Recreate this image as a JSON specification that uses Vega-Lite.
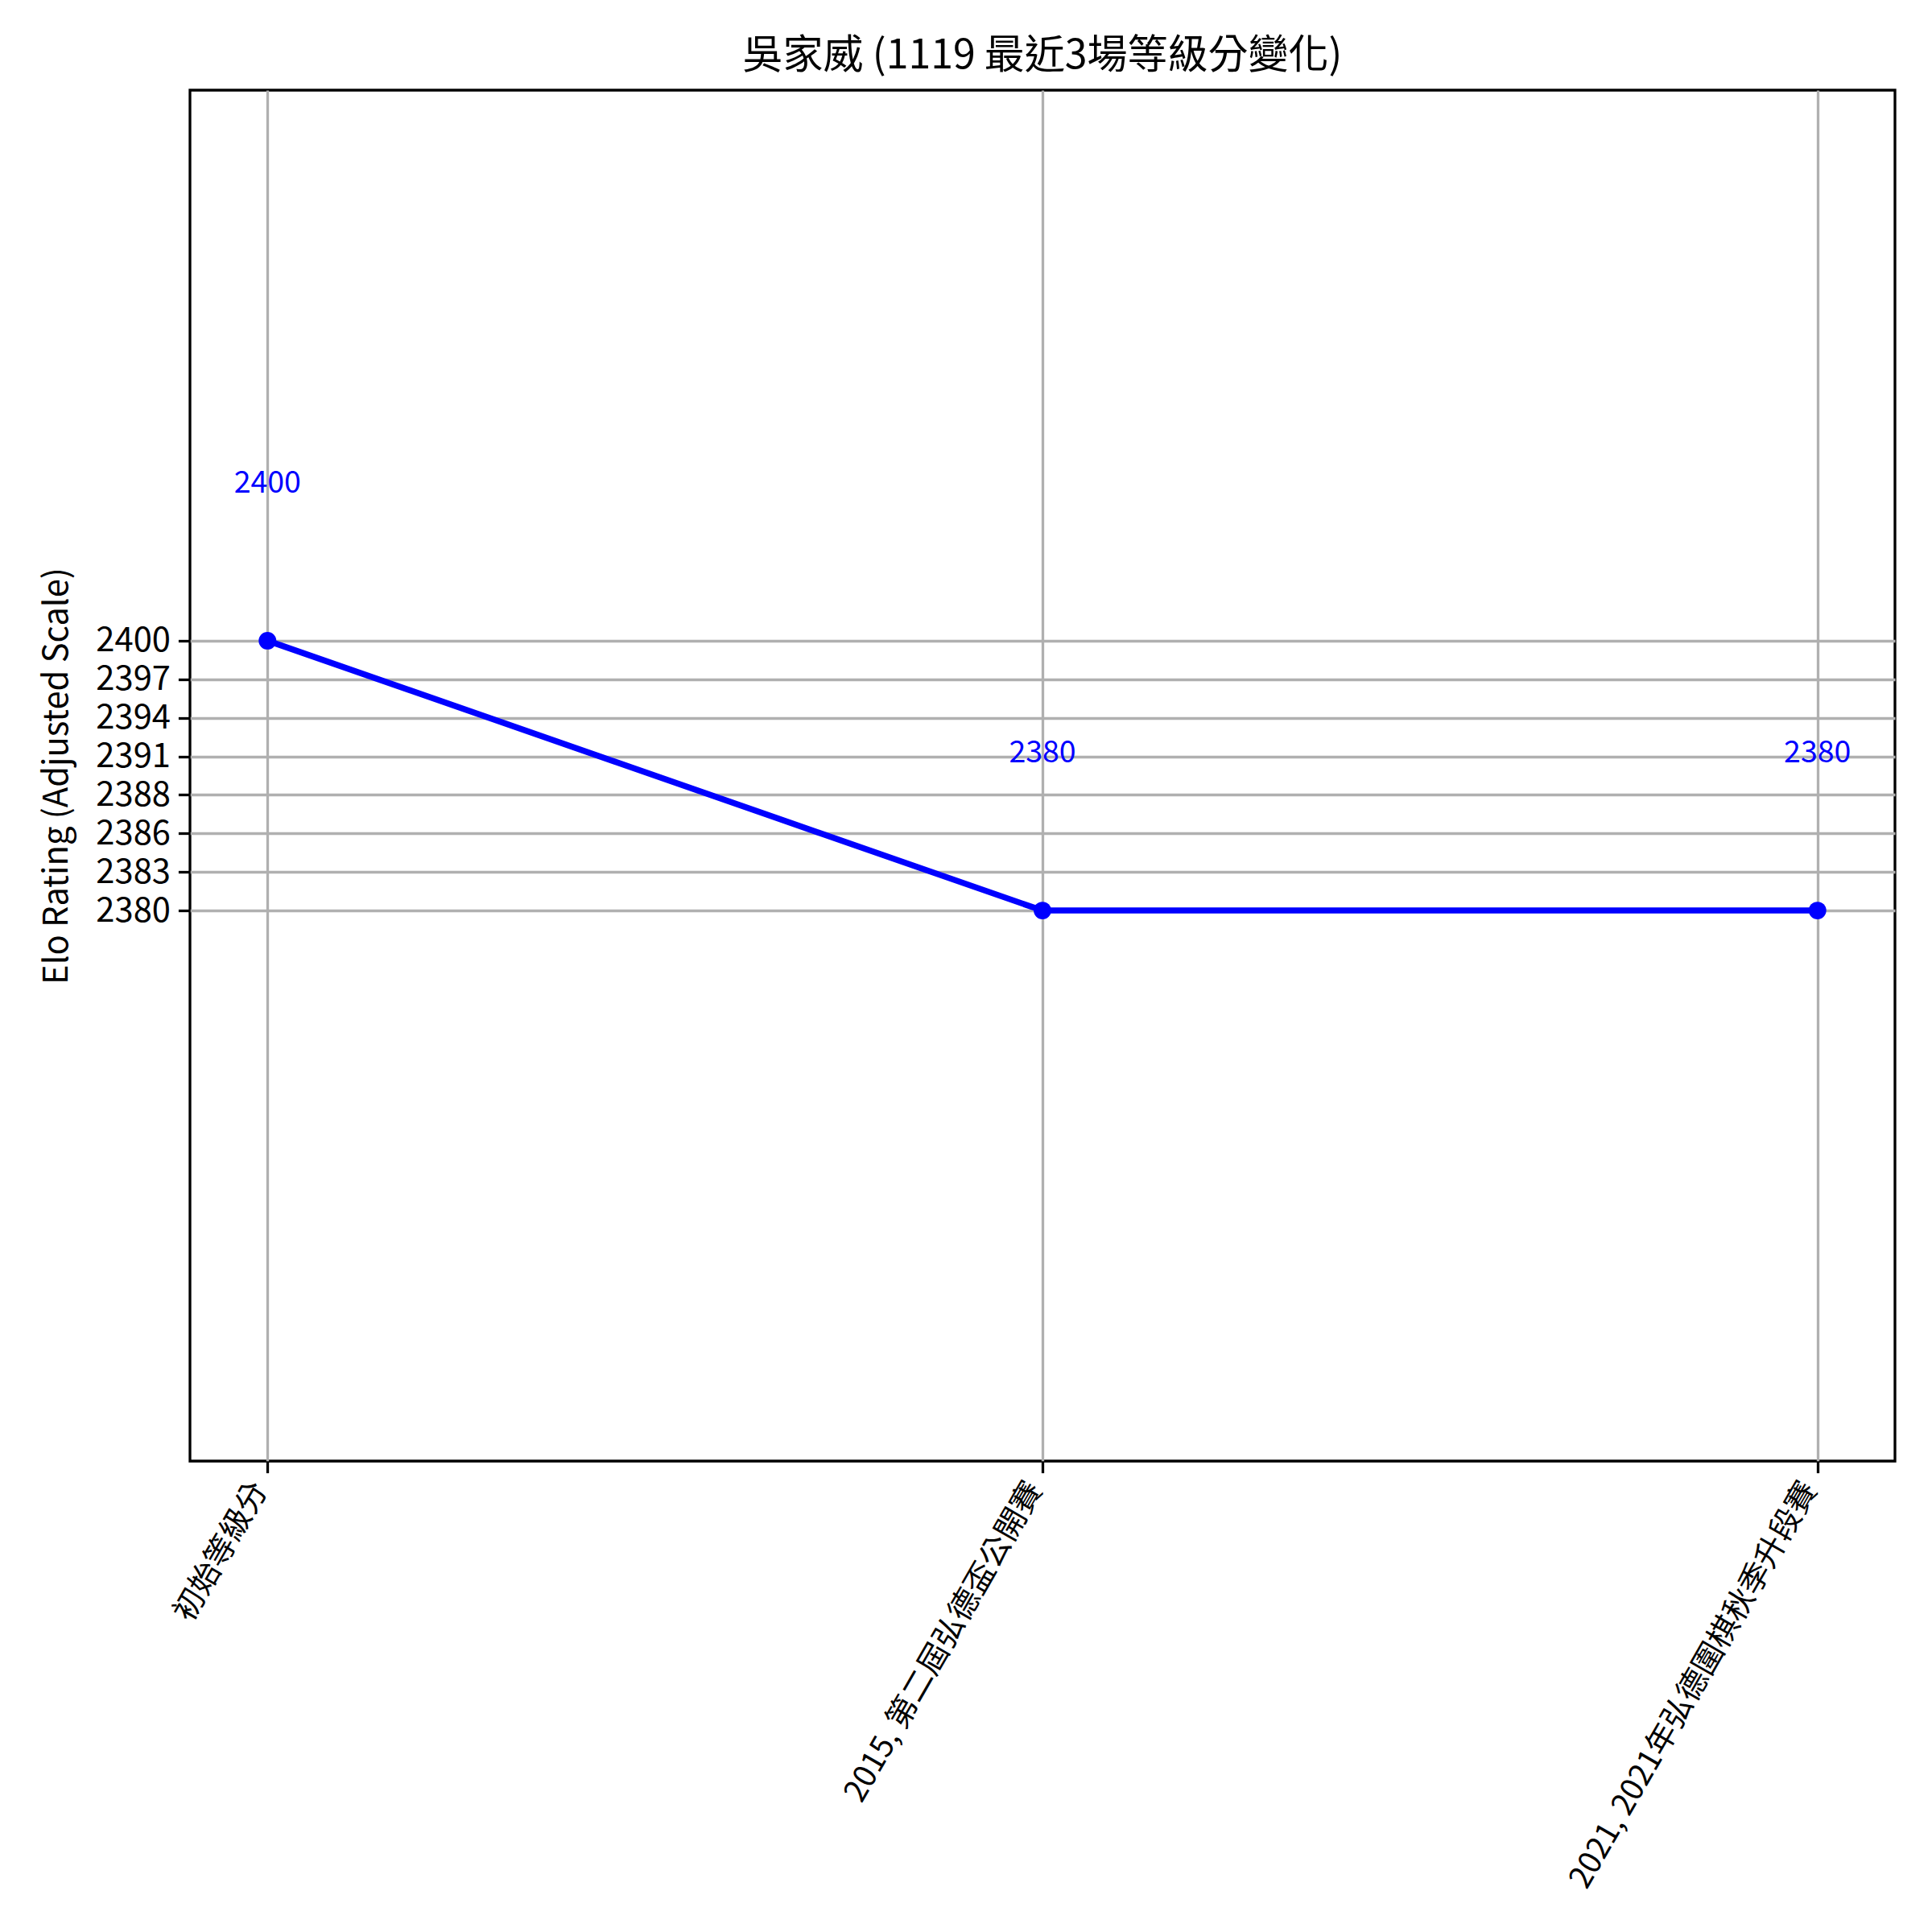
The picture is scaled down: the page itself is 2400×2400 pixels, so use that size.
{
  "$schema": "https://vega.github.io/schema/vega-lite/v6.json",
  "autosize": {"type": "none"},
  "padding": {"left": 236, "top": 112, "right": 46, "bottom": 585},
  "width": 2118,
  "height": 1703,
  "background": "white",
  "title": {
    "text": "吳家威 (1119 最近3場等級分變化)",
    "font": "Noto Sans CJK TC",
    "fontSize": 50,
    "fontWeight": "normal",
    "color": "black",
    "anchor": "middle",
    "offset": 17
  },
  "config": {
    "view": {"stroke": "black", "strokeWidth": 3.3},
    "font": "Noto Sans CJK TC",
    "axis": {
      "labelFont": "Noto Sans CJK TC",
      "titleFont": "Noto Sans CJK TC",
      "labelColor": "black",
      "titleColor": "black",
      "titleFontWeight": "normal",
      "gridColor": "#b0b0b0",
      "gridWidth": 3.3,
      "gridOpacity": 1,
      "tickColor": "black",
      "tickWidth": 3.3,
      "tickSize": 14.6,
      "domain": false
    }
  },
  "data": {
    "values": [
      {"event": "初始等級分", "rating": 2400},
      {"event": "2015, 第二屆弘德盃公開賽", "rating": 2380},
      {"event": "2021, 2021年弘德圍棋秋季升段賽", "rating": 2380}
    ]
  },
  "encoding": {
    "x": {
      "field": "event",
      "type": "ordinal",
      "sort": null,
      "scale": {"type": "point", "padding": 0.1},
      "axis": {
        "title": null,
        "labelAngle": -60,
        "labelAlign": "right",
        "labelBaseline": "middle",
        "labelFontSize": 38.5,
        "labelPadding": 14,
        "labelOffset": -10,
        "labelLimit": 2000,
        "grid": true
      }
    },
    "y": {
      "field": "rating",
      "type": "quantitative",
      "scale": {"domain": [2339.2, 2440.8], "nice": false, "zero": false},
      "axis": {
        "title": "Elo Rating (Adjusted Scale)",
        "titleFontSize": 41.7,
        "titlePadding": 26,
        "labelFontSize": 41.7,
        "labelPadding": 10,
        "labelOverlap": false,
        "values": [2380, 2382.857142857, 2385.714285714, 2388.571428571, 2391.428571429, 2394.285714286, 2397.142857143, 2400],
        "labelExpr": "datum.value > 2388 && datum.value < 2389 ? '2388' : format(datum.value, '.0f')",
        "grid": true
      }
    }
  },
  "layer": [
    {
      "mark": {"type": "line", "color": "#0000ff", "strokeWidth": 7.5},
      "encoding": {}
    },
    {
      "mark": {"type": "point", "filled": true, "color": "#0000ff", "opacity": 1, "size": 480},
      "encoding": {}
    },
    {
      "mark": {"type": "text", "color": "#0000ff", "fontSize": 37.5, "dy": -195, "baseline": "middle", "align": "center"},
      "encoding": {"text": {"field": "rating", "type": "quantitative", "format": "d"}}
    }
  ]
}
